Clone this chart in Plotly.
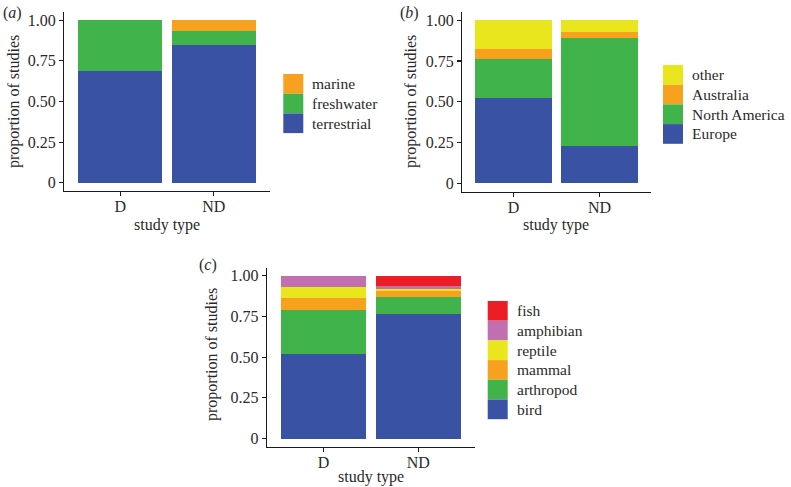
import plotly.graph_objects as go

W, H = 791, 487
FONT = "Liberation Serif"

study_types = ["D", "ND"]

# panel (a): habitat
hab_names = ["terrestrial", "freshwater", "marine"]
hab_D = [0.69, 0.31, 0.0]
hab_ND = [0.85, 0.085, 0.065]

# panel (b): region
reg_names = ["Europe", "North America", "Australia", "other"]
reg_D = [0.52, 0.24, 0.065, 0.175]
reg_ND = [0.23, 0.66, 0.035, 0.075]

# panel (c): taxon
tax_names = ["bird", "arthropod", "mammal", "reptile", "amphibian", "fish"]
tax_D = [0.52, 0.27, 0.07, 0.07, 0.07, 0.0]
tax_ND = [0.765, 0.105, 0.035, 0.01, 0.02, 0.065]

y_ticks = [0, 0.25, 0.5, 0.75, 1.0]
y_ticklabels = ["0", "0.25", "0.50", "0.75", "1.00"]

BLUE = "rgb(58,82,163)"
GREEN = "rgb(64,180,75)"
ORANGE = "rgb(247,161,30)"
YELLOW = "rgb(233,230,30)"
PINK = "rgb(193,111,174)"
RED = "rgb(235,30,38)"

hab_colors = [BLUE, GREEN, ORANGE]
reg_colors = [BLUE, GREEN, ORANGE, YELLOW]
tax_colors = [BLUE, GREEN, ORANGE, YELLOW, PINK, RED]


def px(x):
    return x / W


def py(y):
    return 1 - y / H


fig = go.Figure()

panels = [
    # (names, D, ND, colors, axis suffix, x domain px, y domain px (top,bottom))
    (hab_names, hab_D, hab_ND, hab_colors, "", (64, 270), (12, 191)),
    (reg_names, reg_D, reg_ND, reg_colors, "2", (462, 651), (12, 191.5)),
    (tax_names, tax_D, tax_ND, tax_colors, "3", (266.7, 475), (267.5, 446.7)),
]

for names, dv, ndv, cols, sfx, xd, yd in panels:
    for i, n in enumerate(names):
        fig.add_trace(go.Bar(
            x=study_types, y=[dv[i], ndv[i]], name=n,
            marker=dict(color=cols[i], line=dict(width=0)),
            width=0.9, showlegend=False, hoverinfo="skip",
            xaxis="x" + sfx, yaxis="y" + sfx,
        ))
    axcommon = dict(showline=True, linecolor="#1a1a1a", linewidth=1.1,
                    ticks="outside", ticklen=4, tickwidth=1.1, tickcolor="#1a1a1a",
                    showgrid=False, zeroline=False, automargin=False,
                    tickfont=dict(family=FONT, size=16, color="#2a2a2a"))
    fig.layout["xaxis" + sfx] = dict(
        domain=[px(xd[0]), px(xd[1])], anchor="y" + sfx,
        type="category", range=[-0.6, 1.6], ticklabelstandoff=-3, **axcommon)
    fig.layout["yaxis" + sfx] = dict(
        domain=[py(yd[1]), py(yd[0])], anchor="x" + sfx,
        range=[-0.05, 1.05], tickvals=y_ticks, ticktext=y_ticklabels, **axcommon)

annotations = []
shapes = []


def txt(x, y, s, size=16, xanchor="center", yanchor="middle", angle=0):
    annotations.append(dict(x=px(x), y=py(y), xref="paper", yref="paper", text=s,
                            showarrow=False, xanchor=xanchor, yanchor=yanchor,
                            textangle=angle,
                            font=dict(family=FONT, size=size, color="#2a2a2a")))


# panel labels
txt(1, 13, "(<i>a</i>)", 16, xanchor="left")
txt(398, 13, "(<i>b</i>)", 16, xanchor="left")
txt(197, 265, "(<i>c</i>)", 16, xanchor="left")

# axis titles
txt(14, 102, "proportion of studies", 16, angle=-90)
txt(411, 102, "proportion of studies", 16, angle=-90)
txt(212, 355, "proportion of studies", 16, angle=-90)
txt(167, 225, "study type", 16)
txt(556, 225, "study type", 16)
txt(371, 477, "study type", 16)

# legends (ggplot style, reversed order)
legends = [
    (hab_names, hab_colors, 283.3, 74),
    (reg_names, reg_colors, 663, 65),
    (tax_names, tax_colors, 487.7, 301),
]
KEY = 19.7
for names, cols, x0, y0 in legends:
    for j, (n, c) in enumerate(zip(reversed(names), reversed(cols))):
        top = y0 + j * KEY
        shapes.append(dict(type="rect", xref="paper", yref="paper",
                           x0=px(x0), x1=px(x0 + 20), y0=py(top + KEY), y1=py(top),
                           fillcolor=c, line=dict(width=0)))
        txt(x0 + 27, top + KEY / 2, n, 15.5, xanchor="left")

fig.update_layout(
    template="none",
    width=W, height=H, barmode="stack", bargap=0.1,
    margin=dict(l=0, r=0, t=0, b=0, pad=0),
    paper_bgcolor="white", plot_bgcolor="white",
    annotations=annotations, shapes=shapes,
    font=dict(family=FONT), showlegend=False, hovermode=False,
)

fig.write_html(
    "out.html",
    config={"displayModeBar": False, "staticPlot": True},
    post_script="document.body.style.margin='0';document.body.style.overflow='hidden';",
)
